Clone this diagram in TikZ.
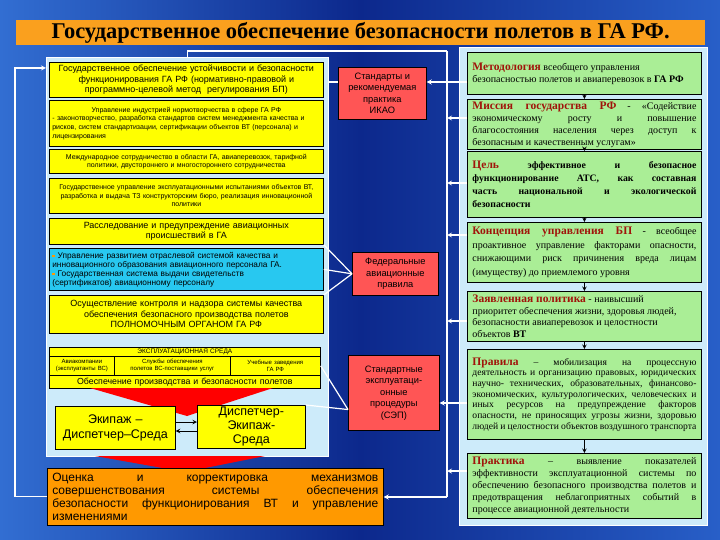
\documentclass[tikz,border=0pt]{standalone}
\usepackage{fontspec}
\setmainfont{Liberation Serif}
\setsansfont{Liberation Sans}
\definecolor{bgL}{RGB}{50,110,210}
\definecolor{bgM}{RGB}{12,40,140}
\definecolor{bgR}{RGB}{40,95,200}
\definecolor{ttl}{RGB}{250,160,30}
\definecolor{pale}{RGB}{205,235,250}
\definecolor{ylw}{RGB}{255,255,0}
\definecolor{cyn}{RGB}{40,200,240}
\definecolor{rd}{RGB}{255,85,85}
\definecolor{org}{RGB}{255,153,0}
\definecolor{grn}{RGB}{170,238,150}
\definecolor{kwc}{RGB}{160,20,10}
\newcommand\fsz[2]{\fontsize{#1}{#2}\selectfont}
\newcommand\kw[1]{{\fsz{11.5}{12}\bfseries\color{kwc}#1}}
\newcommand\bul{{\color{orange!80!yellow}\rule[0.6pt]{2.6pt}{2.6pt}}\ }
\tolerance=10000 \hbadness=10000
\tikzset{
  panel/.style={fill=pale, draw=white, line width=0.8pt, anchor=north west, inner sep=0pt},
  lbox/.style={draw=black, line width=0.7pt, fill=ylw, anchor=north west, inner ysep=0pt, inner xsep=3pt, align=center},
  cell/.style={lbox, inner xsep=1pt, font=\sffamily\fsz{6}{7}},
  redbox/.style={draw=black, line width=0.7pt, fill=rd, anchor=north west, inner sep=0pt, align=center, font=\sffamily\fsz{9.3}{11.5}},
  rbox/.style={draw=black, line width=0.9pt, fill=grn, anchor=north west, inner ysep=0pt, inner xsep=5pt, text width=224pt, align=justify},
  wline/.style={draw=white, line width=1.2pt}
}
\begin{document}
\begin{tikzpicture}[x=1pt, y=-1pt]
  \useasboundingbox (0,0) rectangle (720,540);
  % background and title
  \shade[left color=bgL, right color=bgR, middle color=bgM] (0,0) rectangle (720,540);
  \node[fill=ttl, minimum width=689pt, minimum height=25pt, anchor=north west, inner sep=0pt, font=\bfseries\fsz{22.5}{23}] (title) at (16,20) {Государственное обеспечение безопасности полетов в ГА РФ.};

  % two panels
  \node[panel, minimum width=282pt, minimum height=399pt] (lp) at (46,57) {};
  \node[panel, minimum width=248pt, minimum height=478pt] (rp) at (459,47) {};

  % white bus with its branches
  \coordinate (bt) at (447,51);
  \coordinate (bb) at (447,497);
  \draw[wline] (bt) -- (bb);
  \draw[wline] (bt) -| (lp.north);

  % left column
  \node[lbox, text width=268pt, minimum height=35pt, font=\sffamily\fsz{9}{10.5}] (gov) at (49,62) {Государственное обеспечение устойчивости и безопасности\\ функционирования ГА РФ (нормативно-правовой и\\ программно-целевой метод \ регулирования БП)};
  \node[lbox, text width=268pt, minimum height=46pt, align=left, font=\sffamily\fsz{7}{8.7}] (ind) at (49,100) {\makebox[\hsize]{Управление индустрией нормотворчества в сфере ГА РФ}\\ - законотворчество, разработка стандартов систем менеджмента качества и\\ рисков, систем стандартизации, сертификации объектов ВТ (персонала) и\\ лицензирования};
  \node[lbox, text width=268pt, minimum height=24pt, font=\sffamily\fsz{7}{8.3}] (intl) at (49,149) {Международное сотрудничество в области ГА, авиаперевозок, тарифной\\ политики, двустороннего и многостороннего сотрудничества};
  \node[lbox, text width=268pt, minimum height=35pt, font=\sffamily\fsz{7}{8.5}] (test) at (49,178) {Государственное управление эксплуатационными испытаниями объектов ВТ,\\ разработка и выдача ТЗ конструкторским бюро, реализация инновационной\\ политики};
  \node[lbox, text width=268pt, minimum height=26pt, font=\sffamily\fsz{9}{10}] (inv) at (49,218) {Расследование и предупреждение авиационных\\ происшествий в ГА};
  \node[lbox, fill=cyn, text width=268pt, minimum height=42pt, align=left, font=\sffamily\fsz{8.3}{9}] (qual) at (49,248) {\bul Управление развитием отраслевой системой качества и\\ инновационного образования авиационного персонала ГА.\\ \bul Государственная система выдачи свидетельств\\ (сертификатов) авиационному персоналу};
  \node[lbox, text width=268pt, minimum height=38pt, font=\sffamily\fsz{9}{10.5}] (sup) at (49,295) {Осуществление контроля и надзора системы качества\\ обеспечения безопасного производства полетов\\ ПОЛНОМОЧНЫМ ОРГАНОМ ГА РФ};

  % operating environment
  \node[cell, text width=269pt, minimum height=9pt, font=\sffamily\fsz{6.5}{7}] (env) at (49,347) {ЭКСПЛУАТАЦИОННАЯ СРЕДА};
  \node[cell, text width=63pt, minimum height=19pt] (airl) at (49,356) {Авиакомпании\\ (эксплуатанты ВС)};
  \node[cell, text width=114pt, minimum height=19pt] (serv) at (114,356) {Службы обеспечения\\ полетов ВС-поставщики услуг};
  \node[cell, text width=88pt, minimum height=19pt] (schl) at (230,356) {Учебные заведения\\ ГА РФ};
  \node[cell, text width=269pt, minimum height=13pt, font=\sffamily\fsz{8.8}{9}] (prod) at (49,375) {Обеспечение производства и безопасности полетов};

  % red funnels
  \fill[red] (90,388) -- (273,388) -- (187,416) -- cycle;
  \fill[red] (95,456) -- (265,456) -- (185,472) -- cycle;

  \node[lbox, text width=114pt, minimum height=43pt, font=\sffamily\fsz{12.5}{15}] (crew) at (55,406) {Экипаж –\\ Диспетчер–Среда};
  \node[lbox, text width=102pt, minimum height=43pt, font=\sffamily\fsz{12.5}{14}] (disp) at (197,405) {Диспетчер-\\ Экипаж-\\ Среда};
  \draw[-stealth, line width=1pt] (crew.east |- 0,422) -- (disp.west |- 0,422);
  \draw[-stealth, line width=1pt] (disp.west |- 0,431) -- (crew.east |- 0,431);

  \node[lbox, fill=org, text width=326pt, inner xsep=5pt, minimum height=57pt, align=justify, font=\sffamily\fsz{12}{13.3}] (eval) at (47,468) {Оценка и корректировка механизмов\linebreak совершенствования системы обеспечения\linebreak безопасности функционирования ВТ и управление\linebreak изменениями};

  % red boxes in the middle
  \node[redbox, minimum width=88pt, minimum height=52pt] (icao) at (338,67) {Стандарты и\\ рекомендуемая\\ практика\\ ИКАО};
  \node[redbox, minimum width=86pt, minimum height=43pt] (fap) at (352,252) {Федеральные\\ авиационные\\ правила};
  \node[redbox, minimum width=91pt, minimum height=75pt] (sop) at (348,355) {Стандартные\\ эксплуатаци-\\ онные\\ процедуры\\ (СЭП)};

  % right column
  \node[rbox, minimum height=42pt, font=\fsz{10}{12}] (meth) at (467,52) {\kw{Методология} всеобщего управления\\ безопасностью полетов и авиаперевозок в \textbf{ГА РФ}};
  \node[rbox, minimum height=50pt, font=\fsz{10}{12}] (miss) at (467,99) {\kw{Миссия государства РФ} - «Содействие\linebreak экономическому росту и повышение\linebreak благосостояния населения через доступ к\linebreak безопасным и качественным услугам»};
  \node[rbox, minimum height=66pt, font=\bfseries\fsz{9.8}{13}] (goal) at (467,151) {\kw{Цель} эффективное и безопасное\linebreak функционирование АТС, как составная\linebreak часть национальной и экологической\linebreak безопасности};
  \node[rbox, minimum height=60pt, font=\fsz{10}{13.5}] (conc) at (467,222) {\kw{Концепция управления БП} - всеобщее\linebreak проактивное управление факторами опасности,\linebreak снижающими риск причинения вреда лицам\linebreak (имуществу) до приемлемого уровня};
  \node[rbox, minimum height=50pt, font=\fsz{10}{11.5}] (pol) at (467,291) {\kw{Заявленная политика} - наивысший\\ приоритет обеспечения жизни, здоровья людей,\\ безопасности авиаперевозок и целостности\\ объектов \textbf{ВТ}};
  \node[rbox, minimum height=90pt, font=\fsz{9.6}{10.7}] (rules) at (467,349) {\kw{Правила} – мобилизация на процессную\linebreak деятельность и организацию правовых, юридических\linebreak научно- технических, образовательных, финансово-\linebreak экономических, культурологических, человеческих и\linebreak иных ресурсов на предупреждение факторов\linebreak опасности, не приносящих угрозы жизни, здоровью\linebreak людей и целостности объектов воздушного транспорта};
  \node[rbox, minimum height=65pt, font=\fsz{10}{12}] (prac) at (467,453) {\kw{Практика} – выявление показателей\linebreak эффективности эксплуатационной системы по\linebreak обеспечению безопасного производства полетов и\linebreak предотвращения неблагоприятных событий в\linebreak процессе авиационной деятельности};

  % six black arrows
  \draw[-stealth, line width=1pt] (meth.south) -- (miss.north);
  \draw[-stealth, line width=1pt] (miss.south) -- (goal.north);
  \draw[-stealth, line width=1pt] (goal.south) -- (conc.north);
  \draw[-stealth, line width=1pt] (conc.south) -- (pol.north);
  \draw[-stealth, line width=1pt] (pol.south) -- (rules.north);
  \draw[-stealth, line width=1pt] (rules.south) -- (prac.north);

  % white arrows to the bus and the red boxes
  \draw[wline, -stealth] (meth.west |- 0,82) -- (icao.east |- 0,82);
  \draw[wline, -stealth] (miss.west |- 0,118) -- (bt |- 0,118);
  \draw[wline, -stealth] (goal.west |- 0,183) -- (bt |- 0,183);
  \draw[wline, -stealth] (conc.west |- 0,235) -- (bt |- 0,235);
  \draw[wline, -stealth] (pol.west |- 0,321) -- (bt |- 0,321);
  \draw[wline, -stealth] (rules.west |- 0,403) -- (sop.east |- 0,403);
  \draw[wline, -stealth] (prac.west |- 0,471) -- (bt |- 0,471);
  \draw[wline, -stealth] (bb) -- (eval.east |- bb);

  % white lines from the left panel
  \draw[wline] (lp.east |- 0,82) -- (icao.west |- 0,82);
  \draw[wline] (inv.south east) -- (fap.west);
  \draw[wline] (qual.east) -- (fap.west);
  \draw[wline] (sup.north east) -- (fap.west);
  \draw[wline] (schl.east) -- (sop.200);
  \draw[wline] (disp.north east) -- (sop.200);
  \draw[wline, -stealth] (eval.west) -- ++(-32,0) |- (lp.west |- 0,68);
\end{tikzpicture}
\end{document}
